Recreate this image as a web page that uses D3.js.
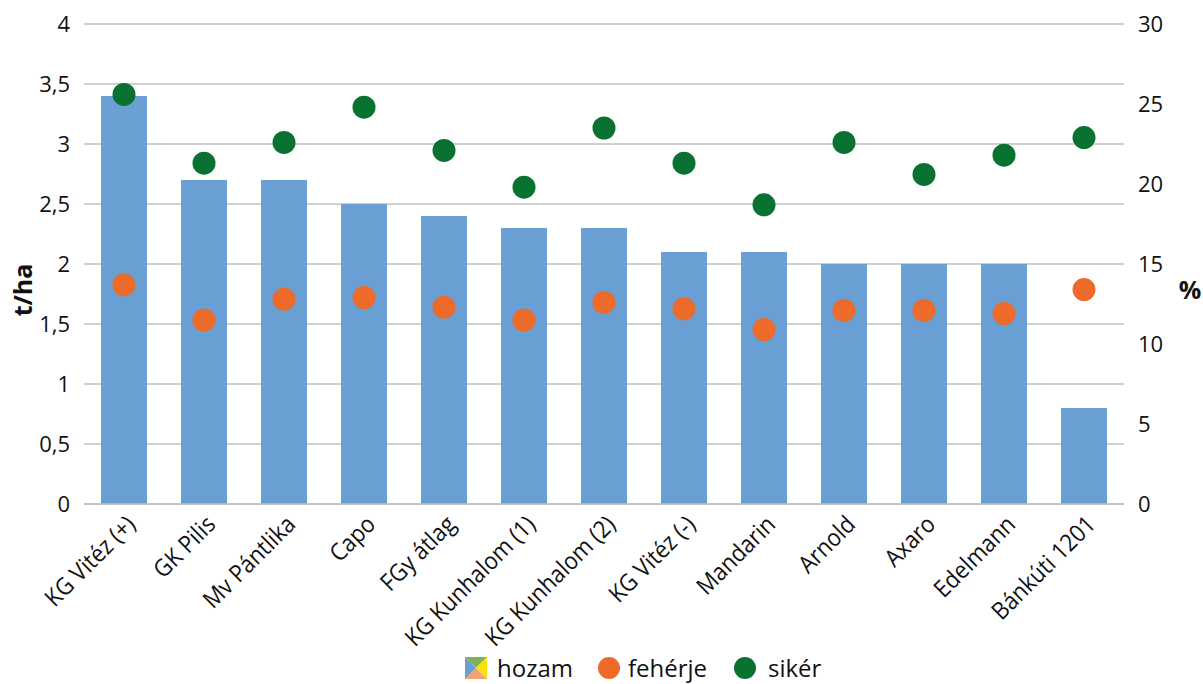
<!DOCTYPE html>
<html><head><meta charset="utf-8">
<script src="https://cdn.jsdelivr.net/npm/d3@7"></script>
<style>
html,body{margin:0;padding:0;background:#fff;}
svg{display:block;}
</style></head>
<body>
<svg id="chart" width="1203" height="684"></svg>
<script>
const categories = ["KG Vitéz (+)","GK Pilis","Mv Pántlika","Capo","FGy átlag","KG Kunhalom (1)","KG Kunhalom (2)","KG Vitéz (-)","Mandarin","Arnold","Axaro","Edelmann","Bánkúti 1201"];
const hozam = [3.4,2.7,2.7,2.5,2.4,2.3,2.3,2.1,2.1,2.0,2.0,2.0,0.8];
const feherje = [13.7,11.5,12.8,12.9,12.3,11.5,12.6,12.2,10.9,12.1,12.1,11.9,13.4];
const siker = [25.6,21.3,22.6,24.8,22.1,19.8,23.5,21.3,18.7,22.6,20.6,21.8,22.9];
const leftTicks = [0,0.5,1,1.5,2,2.5,3,3.5,4];
const rightTicks = [0,5,10,15,20,25,30];
const legendLabels = ["hozam","fehérje","sikér"];

(function(){
const svg = d3.select("#chart");
const pL = 84, pR = 1124, pT = 24, pB = 504;
const x = d3.scaleBand().domain(categories).range([pL,pR]).paddingInner(0.425).paddingOuter(0.2125);
const yL = d3.scaleLinear().domain([0,4]).range([pB,pT]);
const yR = d3.scaleLinear().domain([0,30]).range([pB,pT]);
const fmt = d => String(d).replace(".", ",");
const tickFont = "'Open Sans', 'Noto Sans', sans-serif";

// gridlines
svg.append("g").selectAll("line").data(leftTicks).join("line")
  .attr("x1", pL).attr("x2", pR)
  .attr("y1", d => yL(d)).attr("y2", d => yL(d))
  .attr("stroke", "#bfbfbf").attr("stroke-width", 1.5);

// left axis
const gL = svg.append("g").attr("transform", `translate(${pL},0)`)
  .call(d3.axisLeft(yL).tickValues(leftTicks).tickFormat(fmt).tickSize(0).tickPadding(14));
gL.select(".domain").remove();
gL.selectAll("text").attr("font-family", tickFont).attr("font-size", 22).attr("fill", "#111");

// right axis
const gR = svg.append("g").attr("transform", `translate(${pR},0)`)
  .call(d3.axisRight(yR).tickValues(rightTicks).tickSize(0).tickPadding(14));
gR.select(".domain").remove();
gR.selectAll("text").attr("font-family", tickFont).attr("font-size", 22).attr("fill", "#111");

// bars
svg.append("g").selectAll("rect").data(categories).join("rect")
  .attr("x", d => x(d)).attr("width", x.bandwidth())
  .attr("y", (d,i) => yL(hozam[i])).attr("height", (d,i) => yL(0) - yL(hozam[i]))
  .attr("fill", "#6a9fd3");

// baseline
svg.append("line").attr("x1", pL).attr("x2", pR).attr("y1", yL(0)).attr("y2", yL(0))
  .attr("stroke", "#bfbfbf").attr("stroke-width", 1.5);

// dots
svg.append("g").selectAll("circle").data(categories).join("circle")
  .attr("cx", d => x(d) + x.bandwidth()/2).attr("cy", (d,i) => yR(feherje[i]))
  .attr("r", 11.5).attr("fill", "#ec6b2a");
svg.append("g").selectAll("circle").data(categories).join("circle")
  .attr("cx", d => x(d) + x.bandwidth()/2).attr("cy", (d,i) => yR(siker[i]))
  .attr("r", 11.5).attr("fill", "#0a7230");

// category labels
svg.append("g").selectAll("text").data(categories).join("text")
  .attr("transform", d => `translate(${x(d) + x.bandwidth()/2 + 1},${pB + 10}) rotate(-45) scale(0.92,1)`)
  .attr("text-anchor", "end").attr("dy", "0.7em")
  .attr("font-family", tickFont).attr("font-size", 24).attr("fill", "#111")
  .text(d => d);

// axis titles
svg.append("text").attr("transform", `translate(32,290) rotate(-90)`)
  .attr("text-anchor", "middle").attr("font-family", tickFont).attr("font-weight", "bold")
  .attr("font-size", 25).attr("fill", "#111").text("t/ha");
svg.append("text").attr("x", 1190).attr("y", 299)
  .attr("text-anchor", "middle").attr("font-family", tickFont).attr("font-weight", "bold")
  .attr("font-size", 25).attr("fill", "#111").text("%");

// legend
const lg = svg.append("g").attr("transform", "translate(0,668)");
const ix = 465, iy = -11, s = 22;
const tri = [
  {p:[[ix,iy],[ix+s,iy],[ix+s/2,iy+s/2]], c:"#7db35a"},
  {p:[[ix+s,iy],[ix+s,iy+s],[ix+s/2,iy+s/2]], c:"#f6e10a"},
  {p:[[ix,iy+s],[ix+s,iy+s],[ix+s/2,iy+s/2]], c:"#f3a26c"},
  {p:[[ix,iy],[ix,iy+s],[ix+s/2,iy+s/2]], c:"#6a9fd3"}
];
lg.selectAll("path").data(tri).join("path").attr("d", d => "M" + d.p.join("L") + "Z").attr("fill", d => d.c);
lg.append("circle").attr("cx", 609).attr("cy", 0).attr("r", 11).attr("fill", "#ec6b2a");
lg.append("circle").attr("cx", 745).attr("cy", 0).attr("r", 11).attr("fill", "#0a7230");
const lx = [497, 628, 768];
lg.selectAll("text").data(legendLabels).join("text")
  .attr("x", (d,i) => lx[i]).attr("y", 0).attr("dy", "0.36em")
  .attr("font-family", tickFont).attr("font-size", 24).attr("fill", "#111").text(d => d);
})();
</script>
</body></html>
